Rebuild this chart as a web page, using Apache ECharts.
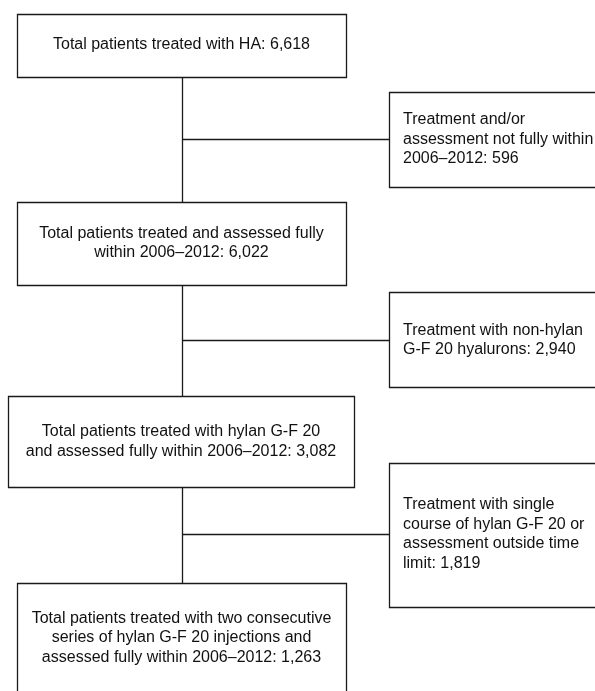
<!DOCTYPE html>
<html>
<head>
<meta charset="utf-8">
<script src="https://cdn.jsdelivr.net/npm/echarts@6/dist/echarts.min.js"></script>
<style>
html,body{margin:0;padding:0;background:#fff;}
#chart{width:595px;height:691px;}
</style>
</head>
<body>
<div id="chart"></div>
<script>
// ---- data ----
const mainLabels = [
  "Total patients treated with HA: {n}",
  "Total patients treated and assessed fully\nwithin 2006\u20132012: {n}",
  "Total patients treated with hylan G-F 20\nand assessed fully within 2006\u20132012: {n}",
  "Total patients treated with two consecutive\nseries of hylan G-F 20 injections and\nassessed fully within 2006\u20132012: {n}"
];
const mainCounts = [6618, 6022, 3082, 1263];
const excludedLabels = [
  "Treatment and/or\nassessment not fully within\n2006\u20132012: {n}",
  "Treatment with non-hylan\nG-F 20 hyalurons: {n}",
  "Treatment with single\ncourse of hylan G-F 20 or\nassessment outside time\nlimit: {n}"
];
const excludedCounts = [596, 2940, 1819];

// ---- layout (positions in chart units) ----
const mainLayout = [
  {x0: 17, x1: 346, y0: 14, y1: 77, ty: 45},
  {x0: 17, x1: 346, y0: 202, y1: 285, ty: 243},
  {x0: 8, x1: 354, y0: 396, y1: 487, ty: 441.5},
  {x0: 17, x1: 346, y0: 583, y1: 720, ty: 638}
];
const exclLayout = [
  {x0: 389, x1: 610, y0: 92, y1: 187, ty: 139.5, tx: 403, branchY: 139},
  {x0: 389, x1: 610, y0: 292, y1: 387, ty: 340, tx: 403, branchY: 340},
  {x0: 389, x1: 610, y0: 463, y1: 607, ty: 534, tx: 403, branchY: 534}
];
const trunkX = 182;

const fmt = n => n.toLocaleString('en-US');
const FONT = 'Liberation Sans, Arial, sans-serif';
const LINE = '#1a1a1a';

function crisp(v){ return Math.round(v) + 0.5; }

const boxData = [];
mainCounts.forEach((c, i) => boxData.push([i, 0]));
excludedCounts.forEach((c, i) => boxData.push([i, 1]));

const chart = echarts.init(document.getElementById('chart'), null, {renderer: 'canvas'});

function renderBox(params, api) {
  const kind = api.value(1) === 0 ? 'main' : 'excl';
  const i = api.value(0);
  const L = kind === 'main' ? mainLayout[i] : exclLayout[i];
  const p0 = api.coord([L.x0, L.y0]);
  const p1 = api.coord([L.x1, L.y1]);
  const x0 = crisp(p0[0]), y0 = crisp(p0[1]), x1 = crisp(p1[0]), y1 = crisp(p1[1]);
  const children = [{
    type: 'rect',
    shape: {x: x0, y: y0, width: x1 - x0, height: y1 - y0},
    style: {fill: '#fff', stroke: LINE, lineWidth: 1.3}
  }];
  let text, tx, align;
  const ty = api.coord([0, L.ty])[1];
  if (kind === 'main') {
    text = mainLabels[i].replace('{n}', fmt(mainCounts[i]));
    tx = (p0[0] + p1[0]) / 2;
    align = 'center';
  } else {
    text = excludedLabels[i].replace('{n}', fmt(excludedCounts[i]));
    tx = api.coord([L.tx, 0])[0];
    align = 'left';
  }
  children.push({
    type: 'text',
    style: {
      text: text, x: tx, y: ty, align: align, verticalAlign: 'middle',
      fontSize: 16, fontFamily: FONT, lineHeight: 19.5, fill: '#111'
    }
  });
  return {type: 'group', children: children};
}

function renderLinks(params, api) {
  const children = [];
  const top = api.coord([trunkX, mainLayout[0].y1]);
  const bottom = api.coord([trunkX, mainLayout[3].y0]);
  const x = crisp(top[0]);
  children.push({type: 'line', shape: {x1: x, y1: top[1], x2: x, y2: bottom[1]},
    style: {stroke: LINE, lineWidth: 1.3}});
  exclLayout.forEach(L => {
    const a = api.coord([trunkX, L.branchY]);
    const b = api.coord([L.x0, L.branchY]);
    const y = crisp(a[1]);
    children.push({type: 'line', shape: {x1: x, y1: y, x2: b[0], y2: y},
      style: {stroke: LINE, lineWidth: 1.3}});
  });
  return {type: 'group', children: children};
}

chart.setOption({
  animation: false,
  backgroundColor: '#fff',
  grid: {left: 0, right: 0, top: 0, bottom: 0},
  xAxis: {type: 'value', min: 0, max: 595, show: false},
  yAxis: {type: 'value', min: 0, max: 691, inverse: true, show: false},
  series: [
    {type: 'custom', renderItem: renderLinks, data: [[0, 0]], z: 1, silent: true, clip: false},
    {type: 'custom', renderItem: renderBox, data: boxData, z: 2, silent: true, clip: false}
  ]
});
</script>
</body>
</html>
